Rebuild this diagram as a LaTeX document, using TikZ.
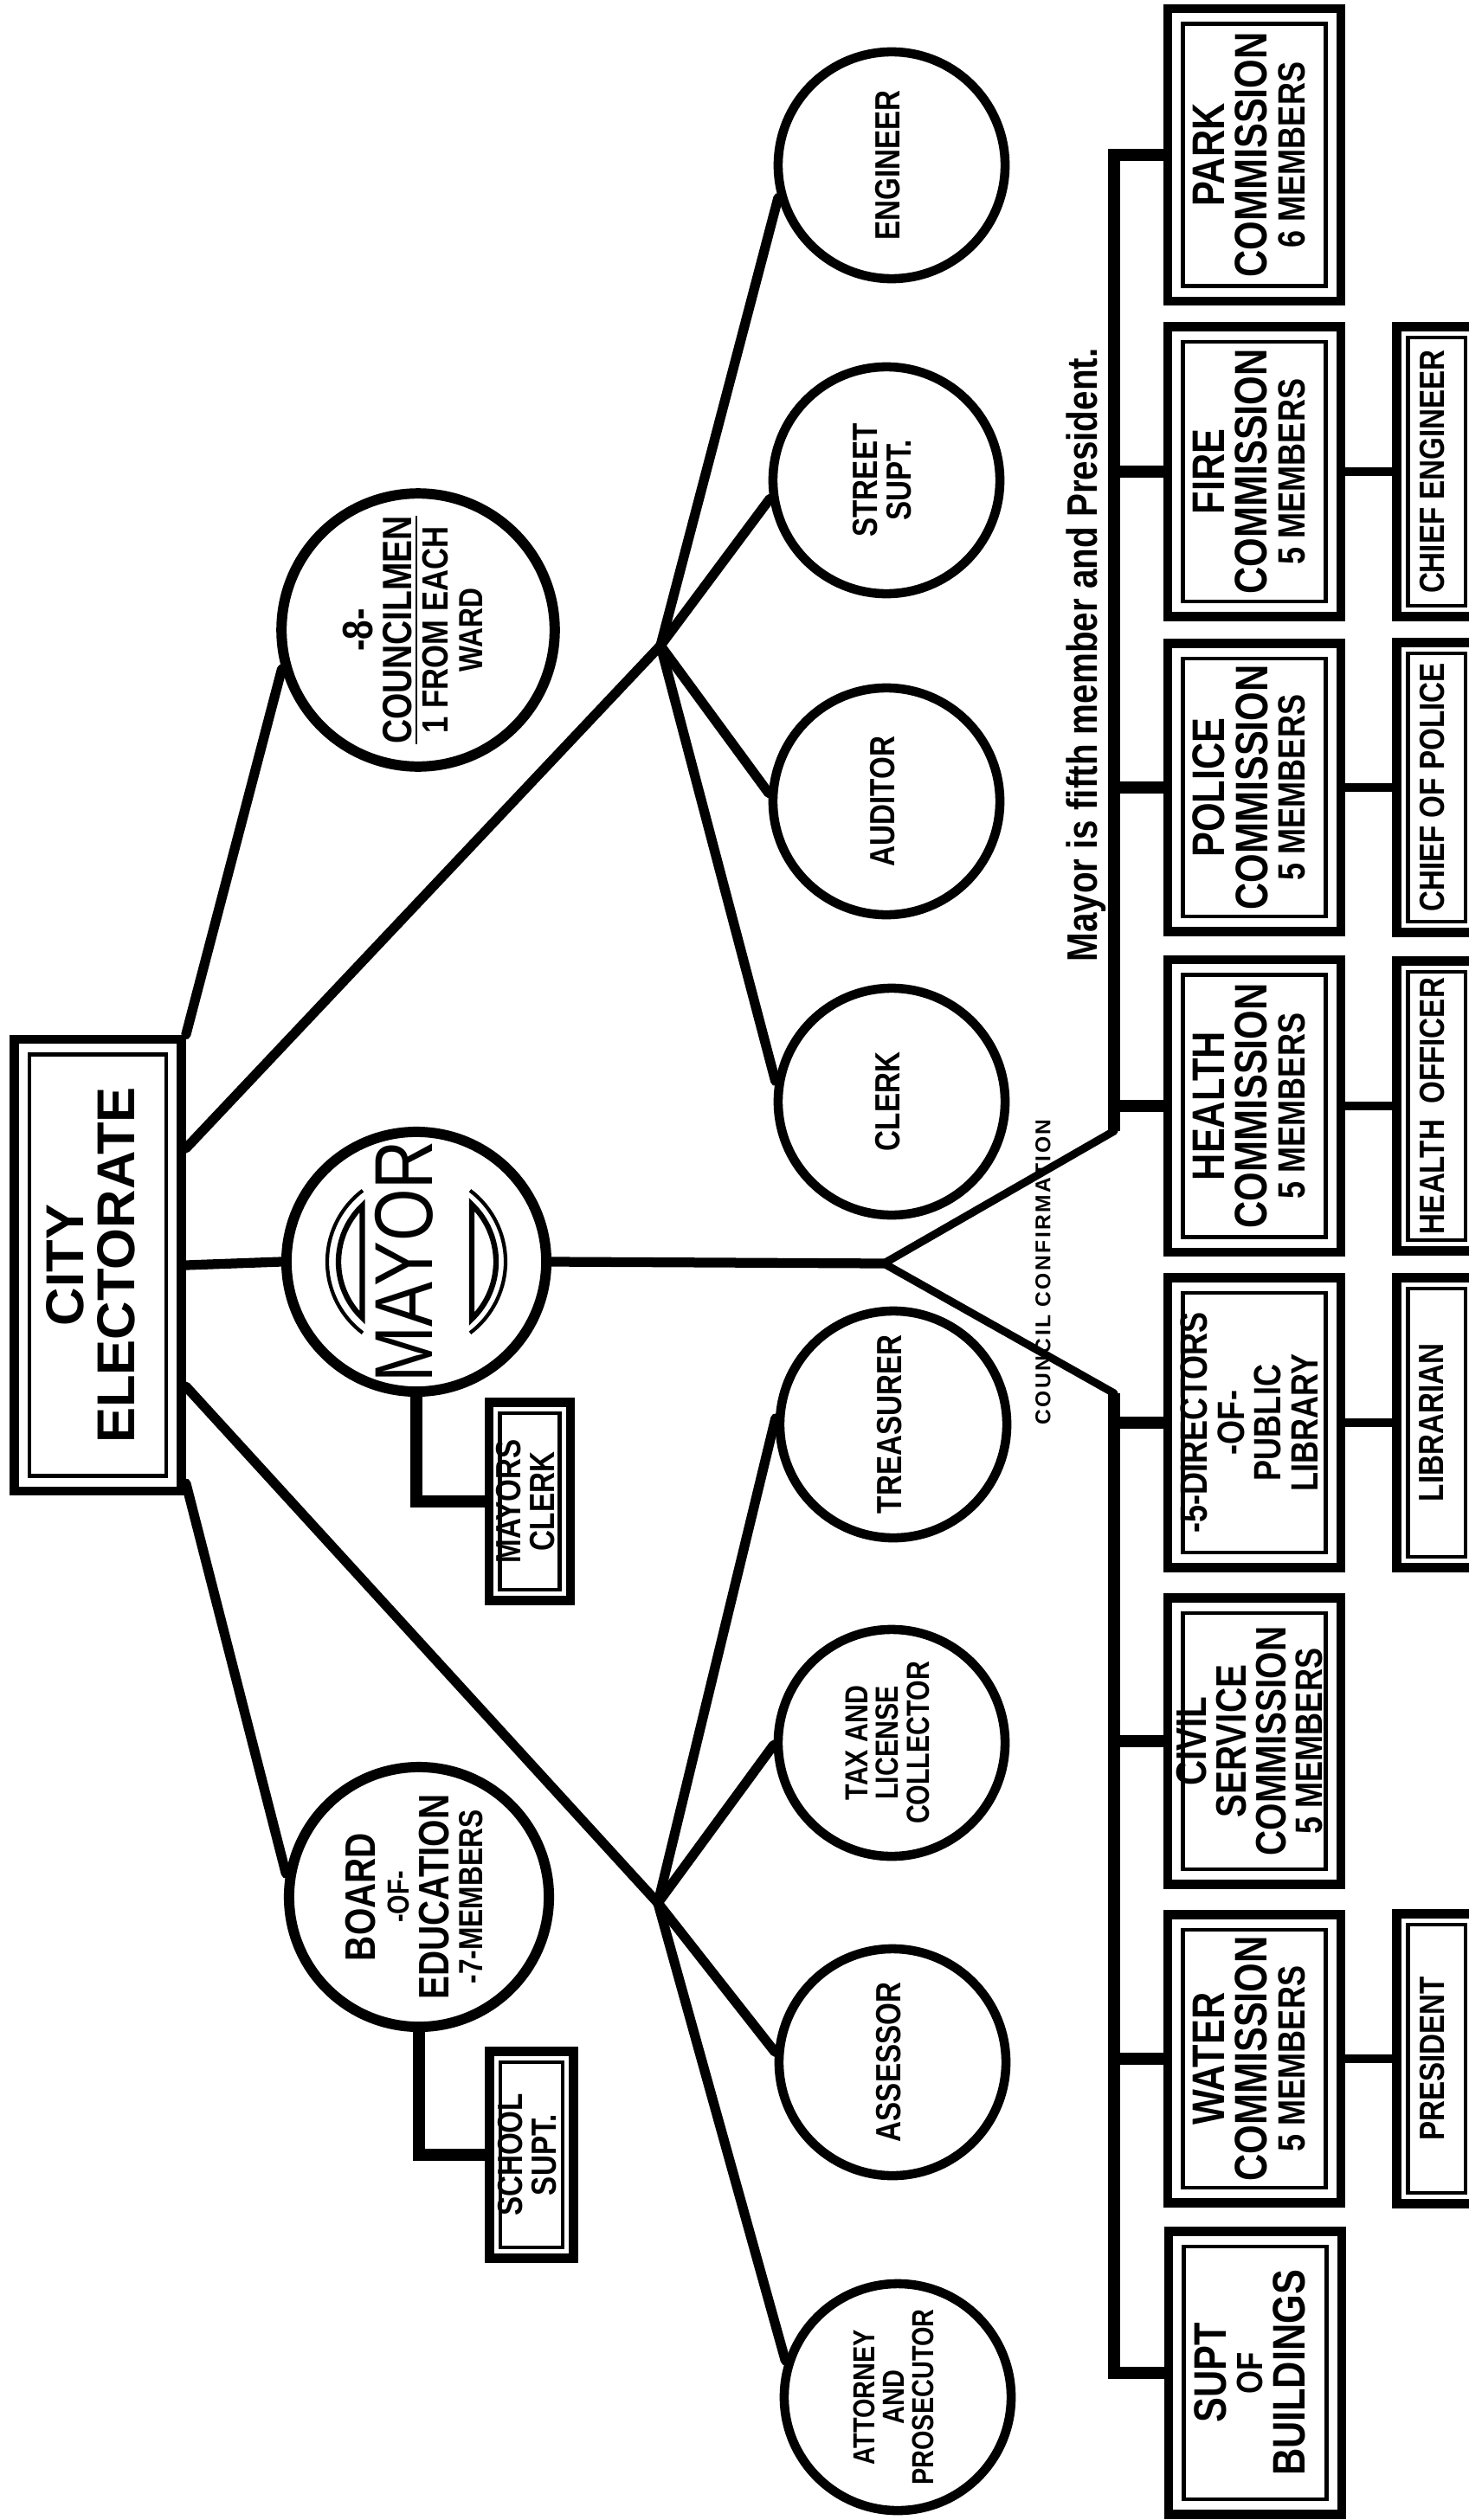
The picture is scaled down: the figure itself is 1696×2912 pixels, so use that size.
\documentclass[tikz,border=0pt]{standalone}
\usepackage{fontspec}
\setmainfont{Liberation Sans}
\newfontfamily\narrowsf{Liberation Sans}[FakeStretch=0.82]
\usetikzlibrary{positioning}
\newcommand\vtext[1]{\rotatebox{90}{\begin{tabular}{@{}c@{}}#1\end{tabular}}}
\newcommand\fsz[2]{\fontsize{#1}{#2}\selectfont}
\newcommand\mem[1]{{\fsz{12.5}{12}#1 MEMBERS}}

\tikzset{
  dbox/.style={draw, line width=3pt, inner sep=0pt, font=\narrowsf\bfseries,
    path picture={\draw[line width=1.3pt]
      ([shift={(#1,#1)}]path picture bounding box.south west) rectangle
      ([shift={(-#1,-#1)}]path picture bounding box.north east);}},
  dbox/.default=5pt,
  combox/.style={dbox, minimum width=2cm, minimum height=3.35cm, font=\narrowsf\bfseries\fsz{15}{12}},
  subbox/.style={dbox=3.6pt, minimum width=0.92cm, minimum height=3.35cm, font=\narrowsf\bfseries\fsz{11.5}{11}},
  office/.style={circle, draw, line width=3pt, minimum size=2.62cm, inner sep=0pt, font=\narrowsf\bfseries\fsz{11.5}{9.5}},
  bigoffice/.style={office, line width=3.4pt, minimum size=3cm},
  link/.style={line width=3.2pt, line cap=round},
  bus/.style={line width=4pt},
}

\begin{document}
\begin{tikzpicture}[x=0.01cm, y=-0.01cm]
\useasboundingbox (0,0) rectangle (1696,2912);

\node[dbox, minimum width=1.93cm, minimum height=5.22cm, font=\bfseries\fsz{17.5}{16}] (elect) at (113,1462) {\vtext{CITY\\ELECTORATE}};

\node[bigoffice, font=\narrowsf\fsz{27}{27}] (mayor) at (481,1458) {\vtext{MAYOR}};
\node[bigoffice, font=\narrowsf\bfseries\fsz{13.5}{11.5}] (council) at (483,728) {\vtext{{\fsz{14}{12}-8-}\\\underline{COUNCILMEN}\\{\fsz{12}{11}1 FROM EACH}\\{\fsz{11}{10}WARD}}};
\node[bigoffice, font=\narrowsf\bfseries\fsz{14}{11}] (board) at (484,2192) {\vtext{BOARD\\{\fsz{10}{10}-OF-}\\EDUCATION\\{\fsz{11}{10}-7-MEMBERS}}};

\node[dbox=3.6pt, minimum width=0.94cm, minimum height=2.29cm, font=\narrowsf\bfseries\fsz{11.5}{10}] (mclerk) at (612,1735) {\vtext{MAYORS\\CLERK}};
\node[dbox=3.6pt, minimum width=0.97cm, minimum height=2.39cm, font=\narrowsf\bfseries\fsz{11.5}{10}] (ssupt) at (614,2490) {\vtext{SCHOOL\\SUPT.}};

\node[office] (eng) at (1030,191) {\vtext{ENGINEER}};
\node[office] (street) at (1024,555) {\vtext{STREET\\SUPT.}};
\node[office] (auditor) at (1024,926) {\vtext{AUDITOR}};
\node[office] (clerk) at (1030,1273) {\vtext{CLERK}};
\node[office] (treas) at (1032,1646) {\vtext{TREASURER}};
\node[office, font=\narrowsf\bfseries\fsz{10.5}{9}] (taxcol) at (1030,2014) {\vtext{TAX AND\\LICENSE\\COLLECTOR}};
\node[office] (assessor) at (1031,2383) {\vtext{ASSESSOR}};
\node[office, font=\narrowsf\bfseries\fsz{10}{9}] (attorney) at (1037,2770) {\vtext{ATTORNEY\\AND\\PROSECUTOR}};

\node[combox, minimum height=3.38cm] (park) at (1449,179) {\vtext{PARK\\COMMISSION\\\mem{6}}};
\node[combox] (fire) at (1449,545) {\vtext{FIRE\\COMMISSION\\\mem{5}}};
\node[combox, minimum height=3.33cm] (police) at (1449,910) {\vtext{POLICE\\COMMISSION\\\mem{5}}};
\node[combox, minimum height=3.38cm] (health) at (1449,1278) {\vtext{HEALTH\\COMMISSION\\\mem{5}}};
\node[combox, font=\narrowsf\bfseries\fsz{12.5}{11.5}] (library) at (1449,1644) {\vtext{-5-DIRECTORS\\-OF-\\PUBLIC\\LIBRARY}};
\node[combox, minimum height=3.31cm, font=\narrowsf\bfseries\fsz{14}{11}] (civil) at (1449,2012) {\vtext{CIVIL\\SERVICE\\COMMISSION\\\mem{5}}};
\node[combox, minimum height=3.33cm] (water) at (1449,2379) {\vtext{WATER\\COMMISSION\\\mem{5}}};
\node[combox, minimum height=3.27cm] (sbuild) at (1450,2742) {\vtext{SUPT\\{\fsz{12}{11}OF}\\BUILDINGS}};

\node[subbox, right=0.54cm of fire] (chiefeng) {\vtext{CHIEF ENGINEER}};
\node[subbox, right=0.54cm of police] (chiefpol) {\vtext{CHIEF OF POLICE}};
\node[subbox, right=0.54cm of health] (healthoff) {\vtext{HEALTH\ \ OFFICER}};
\node[subbox, right=0.54cm of library] (librarian) {\vtext{LIBRARIAN}};
\node[subbox, right=0.54cm of water] (president) {\vtext{PRESIDENT}};

\node[font=\narrowsf\bfseries\fsz{14}{14}] (note) at (1255,757) {\rotatebox{90}{Mayor is fifth member and President.}};
\node[font=\bfseries\fsz{7}{7}\addfontfeature{LetterSpace=10}] (confirm) at (1205,1470) {\rotatebox{90}{COUNCIL CONFIRMATION}};

\coordinate (ju) at (763,746);
\coordinate (jl) at (760,2199);
\coordinate (apex) at (1021,1460);
\coordinate (busup) at (1287,1307);
\coordinate (buslow) at (1287,1610);

\draw[link] (elect.east) -- (mayor.west);
\draw[link] (elect.north east) -- (council.196);
\draw[link] (elect.53) -- (ju);
\draw[link] (elect.-54) -- (jl);
\draw[link] (elect.-68) -- (board.170);
\foreach \o/\a in {eng/196, street/189, auditor/176, clerk/170}
  \draw[link] (ju) -- (\o.\a);
\foreach \o/\a in {treas/177, taxcol/181, assessor/175, attorney/162}
  \draw[link] (jl) -- (\o.\a);

\draw[link, line width=4pt, line cap=butt] (mayor.south) |- (mclerk.west);
\draw[link, line width=4pt, line cap=butt] (board.south) |- (ssupt.west);

\draw[link] (mayor.east) -- (apex);
\draw[link, line width=2.6pt] (busup) -- (apex) -- (buslow);
\draw[bus] (busup) |- (park.west);
\draw[bus] (buslow) |- (sbuild.west);
\foreach \c in {fire, police, health}
  \draw[bus] (busup |- \c.west) -- (\c.west);
\foreach \c in {library, civil, water}
  \draw[bus] (buslow |- \c.west) -- (\c.west);

\draw[link, line width=2.6pt] (fire.east) -- (chiefeng.west);
\draw[link, line width=2.6pt] (police.east) -- (chiefpol.west);
\draw[link, line width=2.6pt] (health.east) -- (healthoff.west);
\draw[link, line width=2.6pt] (library.east) -- (librarian.west);
\draw[link, line width=2.6pt] (water.east) -- (president.west);

\begin{scope}[shift={(mayor.center)}, y=0.01cm]
  \draw[line width=1.2pt] (127:103) arc[start angle=127, end angle=233, radius=103];
  \draw[line width=1.2pt] (53:103) arc[start angle=53, end angle=-53, radius=103];
  \draw[line width=1.8pt] (134:90) arc[start angle=134, end angle=226, radius=90] -- cycle;
  \draw[line width=1.8pt] (46:92) arc[start angle=46, end angle=-46, radius=92] -- cycle;
\end{scope}
\end{tikzpicture}
\end{document}
